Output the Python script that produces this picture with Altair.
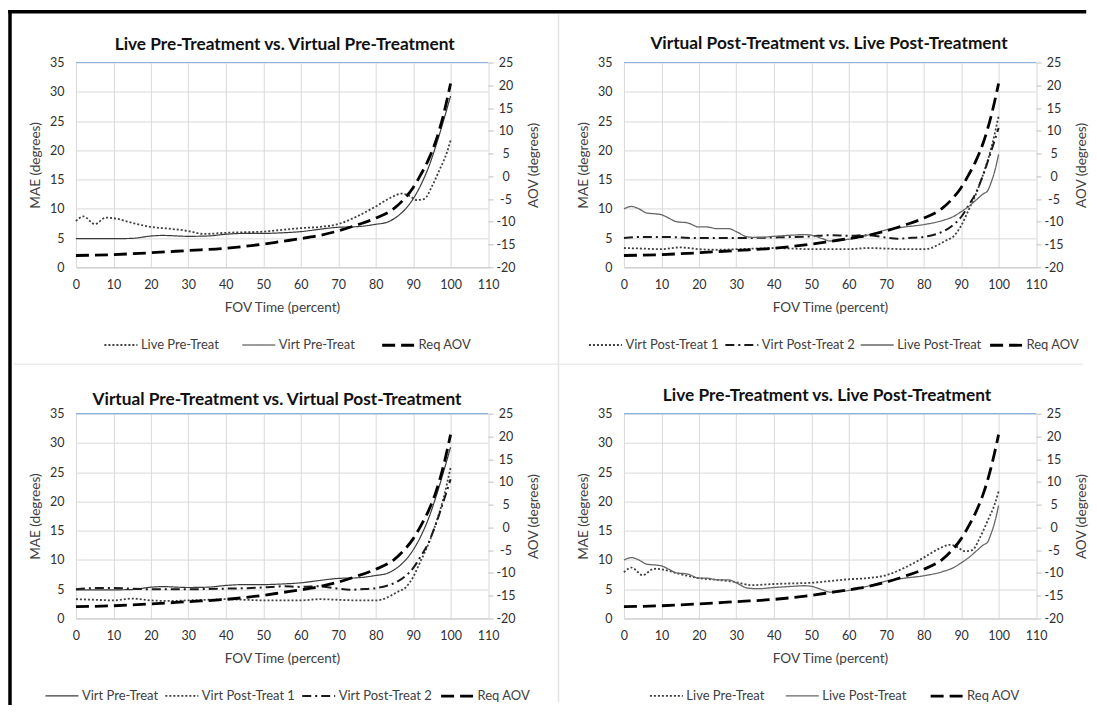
import altair as alt
import pandas as pd

FONT = "Lato"
W, H = 412.5, 205

# ---------------- data ----------------
live_pre_x = [0, 2, 5, 8, 10, 15, 20, 25, 30, 34, 40, 45, 50, 55, 60, 65, 70, 75, 80, 84, 87, 89, 91, 93, 95, 97, 99, 100]
live_pre_mae = [7.9, 8.7, 7.4, 8.5, 8.4, 7.6, 6.9, 6.6, 6.2, 5.7, 5.9, 6.0, 6.1, 6.4, 6.7, 6.9, 7.4, 8.7, 10.4, 11.9, 12.6, 12.2, 11.5, 11.7, 13.8, 16.6, 19.6, 21.7]

virt_pre_x = [0, 10, 15, 20, 23, 30, 35, 40, 45, 50, 55, 60, 65, 70, 75, 80, 83, 86, 88, 90, 92, 94, 96, 98, 100]
virt_pre_mae = [4.9, 4.9, 4.95, 5.35, 5.45, 5.3, 5.35, 5.65, 5.8, 5.8, 5.9, 6.1, 6.5, 6.85, 6.95, 7.35, 7.7, 8.8, 10.0, 11.7, 14.0, 16.9, 20.6, 24.8, 29.3]

virt_post1_x = [0, 5, 10, 15, 20, 25, 30, 35, 40, 45, 50, 55, 60, 65, 70, 75, 80, 82, 84, 86, 88, 90, 92, 94, 96, 98, 100]
virt_post1_mae = [3.3, 3.2, 3.1, 3.4, 3.1, 3.0, 3.1, 3.2, 3.3, 3.2, 3.1, 3.1, 3.1, 3.3, 3.2, 3.1, 3.1, 3.3, 3.9, 4.6, 5.3, 7.1, 9.8, 12.6, 16.1, 20.3, 25.8]

virt_post2_x = [0, 5, 10, 20, 30, 40, 50, 55, 60, 65, 70, 73, 76, 80, 83, 86, 88, 90, 92, 94, 96, 98, 100]
virt_post2_mae = [5.0, 5.2, 5.2, 5.0, 5.0, 5.1, 5.3, 5.5, 5.4, 5.5, 5.1, 4.9, 5.0, 5.2, 5.6, 6.4, 7.3, 8.6, 10.6, 12.8, 16.0, 19.8, 23.8]

live_post_x = [0, 2, 4, 6, 9, 10, 12, 14, 17, 20, 22, 25, 28, 30, 33, 36, 40, 45, 48, 50, 53, 55, 60, 65, 70, 75, 80, 85, 88, 90, 92, 94, 96, 97, 98, 99, 100]
live_post_mae = [10.0, 10.4, 10.0, 9.3, 9.1, 9.0, 8.4, 7.8, 7.6, 6.9, 6.9, 6.6, 6.6, 6.1, 5.2, 5.1, 5.3, 5.5, 5.6, 5.5, 4.9, 4.5, 4.8, 5.5, 6.4, 6.9, 7.3, 8.0, 8.7, 9.5, 10.4, 11.5, 12.6, 13.0, 14.5, 16.5, 19.3]

req_aov_x = [0, 10, 20, 30, 40, 50, 55, 60, 65, 70, 75, 80, 85, 88, 90, 92, 94, 96, 98, 100]
req_aov_deg = [-17.4, -17.2, -16.8, -16.3, -15.8, -14.9, -14.3, -13.7, -13.0, -12.0, -10.7, -9.2, -7.0, -4.6, -2.5, 0.3, 3.5, 7.6, 13.2, 20.4]

x_ticks = list(range(0, 111, 10))
mae_ticks = list(range(0, 36, 5))
aov_ticks = list(range(-20, 26, 5))

titles = [
    "Live Pre-Treatment vs. Virtual Pre-Treatment",
    "Virtual Post-Treatment vs. Live Post-Treatment",
    "Virtual Pre-Treatment vs. Virtual Post-Treatment",
    "Live Pre-Treatment vs. Live Post-Treatment",
]
panel_series = [
    ["Live Pre-Treat", "Virt Pre-Treat", "Req AOV"],
    ["Virt Post-Treat 1", "Virt Post-Treat 2", "Live Post-Treat", "Req AOV"],
    ["Virt Pre-Treat", "Virt Post-Treat 1", "Virt Post-Treat 2", "Req AOV"],
    ["Live Pre-Treat", "Live Post-Treat", "Req AOV"],
]

# ---------------- build tables ----------------
mae_series = {
    "Live Pre-Treat": (live_pre_x, live_pre_mae),
    "Virt Pre-Treat": (virt_pre_x, virt_pre_mae),
    "Virt Post-Treat 1": (virt_post1_x, virt_post1_mae),
    "Virt Post-Treat 2": (virt_post2_x, virt_post2_mae),
    "Live Post-Treat": (live_post_x, live_post_mae),
}
rows = []
for name, (xs, ys) in mae_series.items():
    for xv, yv in zip(xs, ys):
        rows.append({"x": xv, "mae": yv, "series": name})
df_mae = pd.DataFrame(rows)
df_aov = pd.DataFrame({"x": req_aov_x, "aov": req_aov_deg, "series": "Req AOV"})

# ---------------- styles ----------------
colors = {"Live Pre-Treat": "#404040", "Virt Pre-Treat": "#3a3a3a", "Virt Post-Treat 1": "#404040",
          "Virt Post-Treat 2": "#1a1a1a", "Live Post-Treat": "#666666", "Req AOV": "#000000"}
dashes = {"Live Pre-Treat": [2, 2], "Virt Pre-Treat": [1, 0], "Virt Post-Treat 1": [2, 2],
          "Virt Post-Treat 2": [9, 4, 2, 4], "Live Post-Treat": [1, 0], "Req AOV": [13, 6]}
widths = {"Live Pre-Treat": 1.8, "Virt Pre-Treat": 1.2, "Virt Post-Treat 1": 1.8,
          "Virt Post-Treat 2": 2.0, "Live Post-Treat": 1.3, "Req AOV": 2.8}

legend_pos = [(27.0, 265.0, 20), (-36.5, 265.0, 1.5), (-32, 264.7, 2), (24.5, 264.7, 17)]
title_off = [(2.7, -17.4), (-1, -18.4), (-5, -13.4), (-3, -18)]

x_axis = alt.Axis(values=x_ticks, title="FOV Time (percent)", grid=True, gridColor="#D9D9D9",
                  domainColor="#C8C8C8", ticks=False, tickSize=0, labelPadding=11,
                  labelFlush=False, labelOverlap=False, titleY=40, titleBaseline="middle")
yl_axis = alt.Axis(orient="left", values=mae_ticks, title="MAE (degrees)", grid=True,
                   gridColor="#D9D9D9", domain=False, ticks=False, tickSize=0, labelPadding=12,
                   labelFlush=False, labelOverlap=False, titleX=-40, titleY=H / 2, titleAngle=270,
                   titleBaseline="middle", titleAlign="center")
yr_axis = alt.Axis(orient="right", values=aov_ticks, title="AOV (degrees)", grid=False,
                   domain=False, ticks=True, tickSize=5, tickColor="#BFBFBF", labelPadding=12.5,
                   labelAlign="center", labelExpr="datum.value + ''", labelFlush=False,
                   labelOverlap=False, titleX=45.5, titleY=H / 2, titleAngle=270,
                   titleBaseline="middle", titleAlign="center")
x_scale = alt.Scale(domain=[0, 110], nice=False, zero=False)


def style_channels(domain, legend):
    return dict(
        color=alt.Color("series:N", scale=alt.Scale(domain=domain, range=[colors[s] for s in domain]),
                        legend=legend),
        strokeDash=alt.StrokeDash("series:N", scale=alt.Scale(domain=domain, range=[dashes[s] for s in domain]),
                                  legend=legend),
        strokeWidth=alt.StrokeWidth("series:N", scale=alt.Scale(type="ordinal", domain=domain,
                                                               range=[widths[s] for s in domain]),
                                    legend=legend),
    )


def rule(x, y, color, width, x2=None, y2=None):
    enc = dict(x=alt.value(x), y=alt.value(y))
    if x2 is not None:
        enc["x2"] = alt.value(x2)
    if y2 is not None:
        enc["y2"] = alt.value(y2)
    return alt.Chart(alt.Data(values=[{}])).mark_rule(color=color, strokeWidth=width).encode(**enc)


def band(x, x2, y, y2, color):
    return alt.Chart(alt.Data(values=[{}])).mark_rect(color=color).encode(
        x=alt.value(x), x2=alt.value(x2), y=alt.value(y), y2=alt.value(y2))


def panel(i, decorations=False):
    domain = panel_series[i]
    lx, ly, cp = legend_pos[i]
    legend = alt.Legend(orient="none", legendX=lx, legendY=ly, direction="horizontal",
                        columns=len(domain), title=None, symbolType="stroke", symbolSize=1089,
                        labelOffset=2, columnPadding=cp, padding=0)
    sty = style_channels(domain, legend)
    mae_df = df_mae[df_mae["series"].isin(domain)]
    mae = alt.Chart(mae_df).mark_line(interpolate="monotone").encode(
        x=alt.X("x:Q", scale=x_scale, axis=x_axis),
        y=alt.Y("mae:Q", scale=alt.Scale(domain=[0, 35], nice=False, zero=False), axis=yl_axis),
        **sty,
    )
    aov = alt.Chart(df_aov).mark_line(interpolate="monotone").encode(
        x=alt.X("x:Q", scale=x_scale, axis=x_axis),
        y=alt.Y("aov:Q", scale=alt.Scale(domain=[-20, 25], nice=False, zero=False), axis=yr_axis),
        **sty,
    )
    top_line = rule(0, 0, "#8DB3E2", 1.2, x2=W)
    dx, dy = title_off[i]
    title = alt.Chart(alt.Data(values=[{}])).mark_text(
        font=FONT, fontSize=17.3, fontWeight="bold", color="#111111", align="center", baseline="middle"
    ).encode(x=alt.value(W / 2 + dx), y=alt.value(dy), text=alt.value(titles[i]))
    layers = [mae, aov, top_line, title]
    if decorations:
        layers += [
            rule(483, -48, "#E3E3E3", 1.5, y2=640),
            rule(-62, 302, "#EBEBEB", 1.5, x2=1008),
            band(-67.75, 1011.25, -52.5, -49, "#000000"),
            band(-67.75, -64.25, -52.5, 643, "#000000"),
        ]
    return alt.layer(*layers).resolve_scale(y="independent").properties(width=W, height=H)


chart = alt.concat(
    panel(0, decorations=True), panel(1), panel(2), panel(3),
    columns=2, spacing={"row": 146.5, "column": 135.5}, bounds="flush",
).resolve_scale(
    color="independent", strokeDash="independent", strokeWidth="independent",
    x="independent", y="independent",
).properties(
    padding={"top": 1.25, "left": 0, "right": 0, "bottom": 0}, background="white"
).configure_view(strokeWidth=0).configure_axis(
    labelFont=FONT, labelFontSize=12.5, labelColor="#303030",
    titleFont=FONT, titleFontSize=13.6, titleColor="#404040", titleFontWeight="normal",
).configure_legend(
    labelFont=FONT, labelFontSize=13, labelColor="#404040",
)

chart.save("out.html", embed_options={"renderer": "svg", "actions": False})
